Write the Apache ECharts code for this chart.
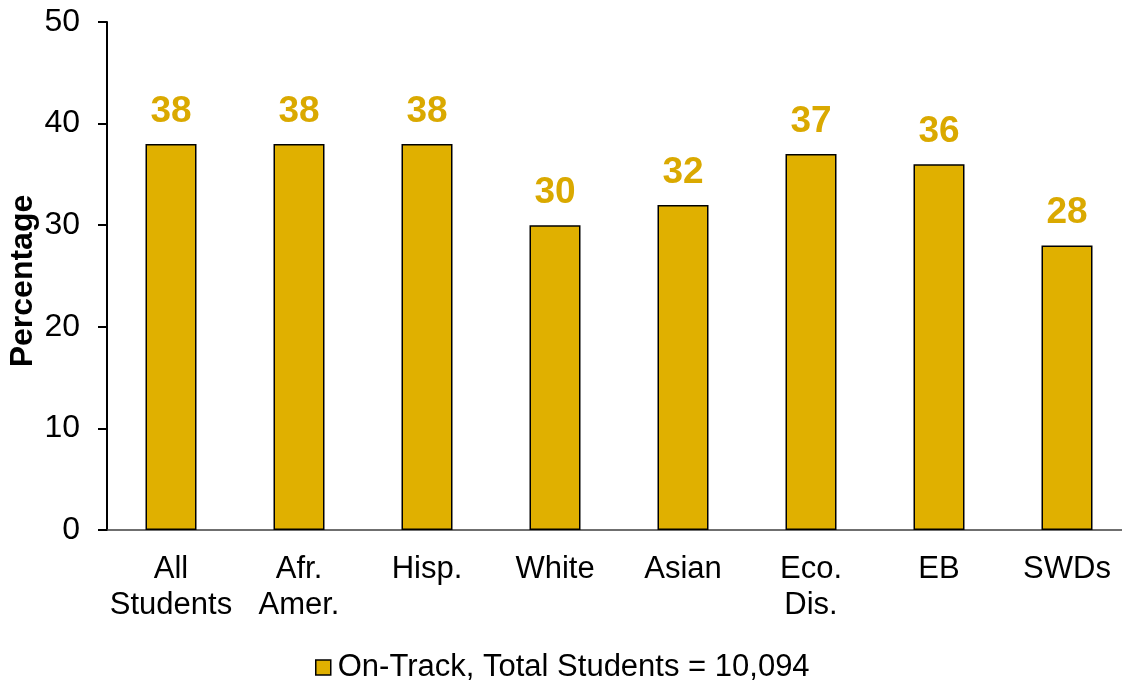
<!DOCTYPE html>
<html>
<head>
<meta charset="utf-8">
<script src="https://cdn.jsdelivr.net/npm/echarts@6/dist/echarts.min.js"></script>
<style>html,body{margin:0;padding:0;background:#fff;}#c{width:1122px;height:681px;}</style>
</head>
<body>
<div id="c"></div>
<script>
var categories = ['All\nStudents', 'Afr.\nAmer.', 'Hisp.', 'White', 'Asian', 'Eco.\nDis.', 'EB', 'SWDs'];
var onTrack = [38, 38, 38, 30, 32, 37, 36, 28];
var seriesName = 'On-Track, Total Students = 10,094';
var yTicks = { min: 0, max: 50, interval: 10 };

var chart = echarts.init(document.getElementById('c'), null, { renderer: 'canvas' });
var font = 'Liberation Sans, Arial, sans-serif';
chart.setOption({
  animation: false,
  backgroundColor: '#ffffff',
  grid: { left: 107, top: 22, width: 1024, height: 508, containLabel: false, outerBoundsMode: 'none' },
  legend: {
    data: [seriesName],
    left: 310,
    top: 647,
    itemWidth: 15,
    itemHeight: 15,
    icon: 'rect',
    itemStyle: { borderColor: '#000', borderWidth: 1.5 },
    textStyle: { fontFamily: font, fontSize: 31, color: '#000', padding: [0, 0, 0, 2] }
  },
  xAxis: {
    type: 'category',
    data: categories,
    axisLine: { lineStyle: { color: '#404040', width: 1.5 } },
    axisTick: { show: false },
    axisLabel: { fontFamily: font, fontSize: 31, color: '#000', lineHeight: 36, margin: 21, interval: 0 }
  },
  yAxis: {
    type: 'value',
    min: yTicks.min,
    max: yTicks.max,
    interval: yTicks.interval,
    name: 'Percentage',
    nameLocation: 'middle',
    nameGap: 68,
    nameMoveOverlap: false,
    nameTextStyle: { fontFamily: font, fontSize: 32, fontWeight: 'bold', color: '#000', padding: [0, 10, 0, 0] },
    splitLine: { show: false },
    axisLine: { show: true, lineStyle: { color: '#000', width: 2 } },
    axisTick: { show: true, length: 9, lineStyle: { color: '#000', width: 2 } },
    axisLabel: { fontFamily: font, fontSize: 32, color: '#000', margin: 27 }
  },
  series: [{
    name: seriesName,
    type: 'bar',
    data: onTrack,
    barWidth: 51,
    itemStyle: { color: '#E0B000', borderColor: '#000', borderWidth: 1.5 },
    label: {
      show: true,
      position: 'top',
      distance: 14,
      fontFamily: font,
      fontSize: 37,
      fontWeight: 'bold',
      color: '#DAA900'
    }
  }]
});
</script>
</body>
</html>
